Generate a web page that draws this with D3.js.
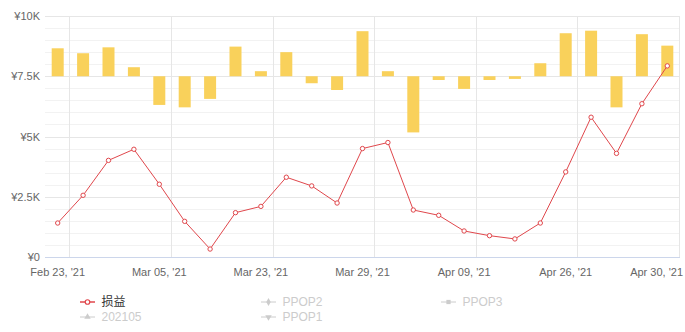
<!DOCTYPE html>
<html>
<head>
<meta charset="utf-8">
<script src="https://cdn.jsdelivr.net/npm/d3@7/dist/d3.min.js"></script>
<style>
  html, body { margin: 0; padding: 0; background: #fff; }
  svg { display: block; font-family: "Liberation Sans", Arial, "Noto Sans CJK SC", sans-serif; }
</style>
</head>
<body>
<svg id="chart" width="685" height="332"></svg>
<script>
// Trading days shown on the category axis
const dates = [
  "2021-02-23", "2021-02-24", "2021-02-25", "2021-03-01", "2021-03-05",
  "2021-03-08", "2021-03-10", "2021-03-16", "2021-03-23", "2021-03-24",
  "2021-03-25", "2021-03-26", "2021-03-29", "2021-03-31", "2021-04-01",
  "2021-04-06", "2021-04-09", "2021-04-13", "2021-04-19", "2021-04-22",
  "2021-04-26", "2021-04-27", "2021-04-28", "2021-04-29", "2021-04-30"
];

// Cumulative profit/loss (¥)
const profit = [
  1410, 2560, 4010, 4470, 3020, 1480, 330, 1840, 2100, 3310,
  2950, 2240, 4500, 4750, 1950, 1730, 1080, 885, 750, 1410,
  3530, 5800, 4300, 6360, 7930
];

// Daily change (¥), drawn against a secondary scale whose zero sits on ¥7.5K
const dailyChange = [
  1160, 955, 1200, 375, -1190, -1290, -940, 1230, 210, 1000,
  -290, -570, 1870, 210, -2330, -155, -525, -155, -110, 540,
  1785, 1890, -1290, 1745, 1270
];

const yTicks = [0, 2500, 5000, 7500, 10000];
const yTickLabels = ["¥0", "¥2.5K", "¥5K", "¥7.5K", "¥10K"];

const legendItems = [
  { name: "损益", symbol: "circle", active: true },
  { name: "PPOP2", symbol: "diamond", active: false },
  { name: "PPOP3", symbol: "square", active: false },
  { name: "202105", symbol: "triangle", active: false },
  { name: "PPOP1", symbol: "triangle-down", active: false }
];

const W = 685, H = 332;
const margin = { left: 45, right: 5, top: 16, bottom: 75 };
const plotL = margin.left, plotR = W - margin.right;
const plotT = margin.top, plotB = H - margin.bottom;

const lineColor = "#e0474c";
const barColor = "#f9d15b";

const svg = d3.select("#chart");

const x = d3.scaleBand().domain(dates).range([plotL, plotR]);
const y = d3.scaleLinear().domain([0, 10000]).range([plotB, plotT]);
const yBar = d3.scaleLinear().domain([-7500, 2500]).range([plotB, plotT]);

const fmtDate = d3.timeFormat("%b %d, '%y");
const parse = d3.timeParse("%Y-%m-%d");

// Minor horizontal grid
const minor = d3.range(500, 10000, 500).filter(v => v % 2500 !== 0);
svg.append("g").selectAll("line").data(minor).join("line")
  .attr("x1", plotL).attr("x2", plotR)
  .attr("y1", d => Math.round(y(d)) + 0.5).attr("y2", d => Math.round(y(d)) + 0.5)
  .attr("stroke", "#f2f2f2").attr("stroke-width", 1);

// Major horizontal grid
svg.append("g").selectAll("line").data(yTicks.filter(v => v > 0)).join("line")
  .attr("x1", plotL).attr("x2", plotR)
  .attr("y1", d => Math.round(y(d)) + 0.5).attr("y2", d => Math.round(y(d)) + 0.5)
  .attr("stroke", "#e6e6e6").attr("stroke-width", 1);

// Vertical grid on every fourth category boundary
const bw = x.step();
const vIdx = d3.range(1, dates.length + 1, 4);
svg.append("g").selectAll("line").data(vIdx).join("line")
  .attr("x1", i => Math.round(plotL + i * bw) - 0.5)
  .attr("x2", i => Math.round(plotL + i * bw) - 0.5)
  .attr("y1", plotT).attr("y2", plotB)
  .attr("stroke", "#e6e6e6").attr("stroke-width", 1);

// Bottom axis line
svg.append("line")
  .attr("x1", plotL).attr("x2", plotR)
  .attr("y1", Math.round(plotB) + 0.5).attr("y2", Math.round(plotB) + 0.5)
  .attr("stroke", "#ccd6eb").attr("stroke-width", 1);

// Y axis labels
const yAxis = d3.axisLeft(y).tickValues(yTicks)
  .tickFormat((d, i) => yTickLabels[i]).tickSize(0).tickPadding(5);
const gy = svg.append("g").attr("transform", `translate(${plotL},0)`).call(yAxis);
gy.select(".domain").remove();
gy.selectAll("text").attr("fill", "#666").attr("font-size", 11)
  .attr("font-family", "'Liberation Sans', Arial, sans-serif");

// X axis labels (every fourth day)
const xAxis = d3.axisBottom(x)
  .tickValues(dates.filter((d, i) => i % 4 === 0))
  .tickFormat(d => fmtDate(parse(d))).tickSize(0).tickPadding(11);
const gx = svg.append("g").attr("transform", `translate(0,${plotB})`).call(xAxis);
gx.select(".domain").remove();
gx.selectAll("text").attr("fill", "#666").attr("font-size", 11)
  .attr("font-family", "'Liberation Sans', Arial, sans-serif");
// keep the last label inside the canvas
gx.selectAll(".tick").each(function () {
  const t = d3.select(this).select("text");
  const tr = d3.select(this).attr("transform");
  const px = +tr.match(/translate\(([-\d.]+)/)[1];
  const w = t.node().getComputedTextLength();
  if (px + w / 2 > W - 2) {
    t.attr("text-anchor", "end").attr("x", (W - 2) - px);
  }
});

// Bars
const barW = 12;
svg.append("g").selectAll("rect").data(dailyChange).join("rect")
  .attr("x", (d, i) => x(dates[i]) + bw / 2 - barW / 2)
  .attr("width", barW)
  .attr("y", d => Math.min(yBar(d), yBar(0)))
  .attr("height", d => Math.abs(yBar(d) - yBar(0)))
  .attr("fill", barColor);

// Line
const line = d3.line()
  .x((d, i) => x(dates[i]) + bw / 2)
  .y(d => y(d));
svg.append("path").datum(profit)
  .attr("d", line).attr("fill", "none")
  .attr("stroke", lineColor).attr("stroke-width", 1);

svg.append("g").selectAll("circle").data(profit).join("circle")
  .attr("cx", (d, i) => x(dates[i]) + bw / 2)
  .attr("cy", d => y(d))
  .attr("r", 2.2)
  .attr("fill", "#fff").attr("stroke", lineColor).attr("stroke-width", 1);

// Legend
const symbolMap = {
  "circle": d3.symbolCircle,
  "diamond": d3.symbolDiamond,
  "square": d3.symbolSquare,
  "triangle": d3.symbolTriangle,
  "triangle-down": d3.symbolTriangle
};
const colX = [80, 261, 441];
const rowY = [302, 317];
const lg = svg.append("g");
legendItems.forEach((item, i) => {
  const cx = colX[i % 3], cy = rowY[Math.floor(i / 3)];
  const col = item.active ? lineColor : "#cccccc";
  const g = lg.append("g").attr("transform", `translate(${cx},${cy})`);
  g.append("line").attr("x1", 0).attr("x2", 15).attr("y1", 0).attr("y2", 0)
    .attr("stroke", col).attr("stroke-width", item.active ? 1.5 : 1);
  const sym = g.append("path")
    .attr("d", d3.symbol().type(symbolMap[item.symbol]).size(item.symbol === "circle" ? 16 : 18)())
    .attr("transform", `translate(7.5,0)` + (item.symbol === "triangle-down" ? " rotate(180)" : ""));
  if (item.active) {
    sym.attr("fill", "#fff").attr("stroke", col).attr("stroke-width", 1.2);
  } else {
    sym.attr("fill", col);
  }
  g.append("text").attr("x", 21.5).attr("y", 0).attr("dy", "0.35em")
    .attr("font-size", 12)
    .attr("fill", item.active ? "#333" : "#cccccc")
    .text(item.name);
});
</script>
</body>
</html>
